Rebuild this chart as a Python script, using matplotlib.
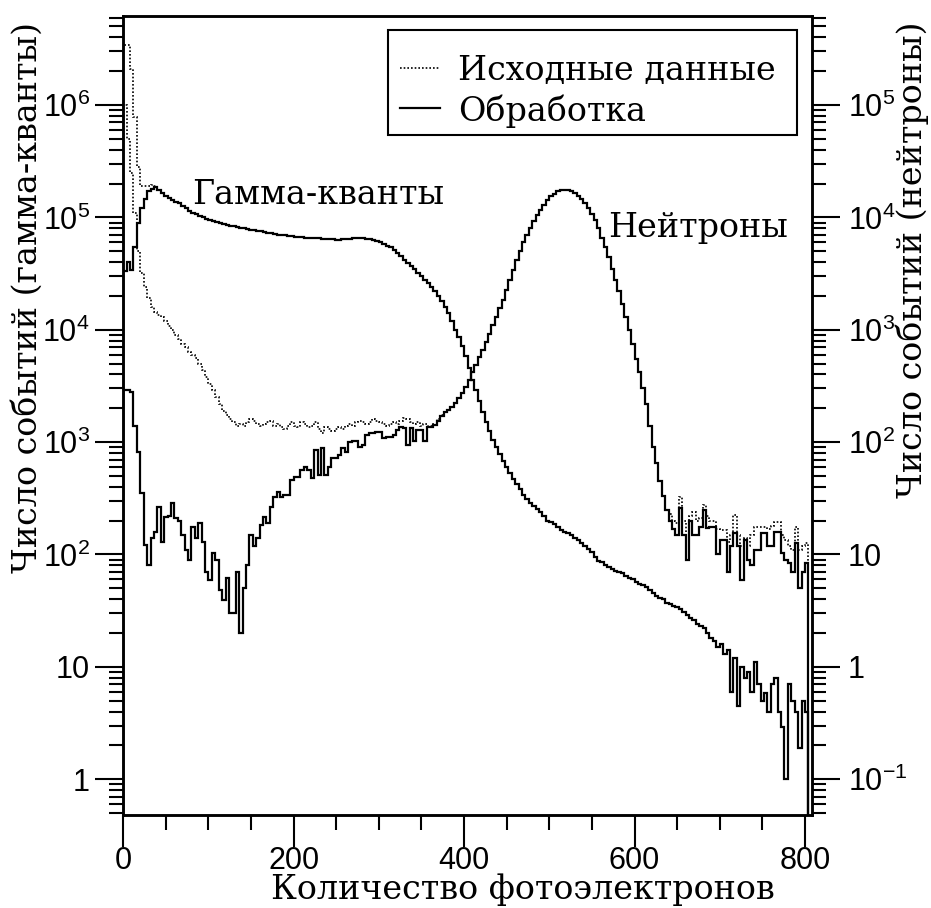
import numpy as np
import matplotlib
matplotlib.use("Agg")
import matplotlib.pyplot as plt
from matplotlib.lines import Line2D
from matplotlib.patches import Rectangle
from matplotlib.ticker import LogLocator, FixedLocator, FuncFormatter, MultipleLocator, NullFormatter

# histogram bins: width 4 photoelectrons, starting at 0
bin_width = 4

# processed gamma spectrum (left axis)
gamma_proc = [
    3.3e4, 4.0e4, 3.4e4, 5.5e4, 9.0e4, 1.2e5, 1.45e5, 1.7e5, 1.8e5, 1.85e5,      # 0
    1.75e5, 1.65e5, 1.56e5, 1.5e5, 1.44e5, 1.38e5, 1.33e5, 1.26e5, 1.2e5, 1.15e5,  # 40
    1.1e5, 1.07e5, 1.03e5, 1.0e5, 9.7e4, 9.5e4, 9.3e4, 9.1e4, 8.9e4, 8.7e4,      # 80
    8.5e4, 8.4e4, 8.3e4, 8.2e4, 8.1e4, 8.0e4, 7.9e4, 7.8e4, 7.7e4, 7.6e4,        # 120
    7.5e4, 7.4e4, 7.3e4, 7.2e4, 7.1e4, 7.0e4, 6.95e4, 6.9e4, 6.85e4, 6.8e4,      # 160
    6.75e4, 6.7e4, 6.65e4, 6.6e4, 6.6e4, 6.55e4, 6.5e4, 6.5e4, 6.45e4, 6.4e4,    # 200
    6.4e4, 6.4e4, 6.35e4, 6.35e4, 6.4e4, 6.4e4, 6.45e4, 6.5e4, 6.5e4, 6.5e4,     # 240
    6.5e4, 6.45e4, 6.4e4, 6.3e4, 6.2e4, 6.0e4, 5.8e4, 5.6e4, 5.4e4, 5.1e4,       # 280
    4.8e4, 4.5e4, 4.2e4, 3.95e4, 3.7e4, 3.45e4, 3.2e4, 3.0e4, 2.8e4, 2.6e4,      # 320
    2.4e4, 2.2e4, 2.0e4, 1.8e4, 1.6e4, 1.4e4, 1.2e4, 1.0e4, 8.6e3, 7.2e3,        # 360
    5.8e3, 4.6e3, 3.6e3, 2.9e3, 2.3e3, 1.85e3, 1.5e3, 1.25e3, 1.05e3, 900,       # 400
    780, 680, 600, 530, 470, 420, 380, 340, 310, 290,                            # 440
    270, 255, 240, 220, 200, 195, 185, 175, 165, 160,                            # 480
    155, 150, 140, 135, 126, 118, 112, 106, 95, 88,                              # 520
    85, 80, 78, 74, 72, 70, 68, 64, 62, 60,                                      # 560
    57, 55, 53, 51, 48, 45, 43, 41, 40, 37,                                      # 600
    36, 35, 34, 33, 31, 29, 27, 26, 24, 23,                                      # 640
    22, 20, 18, 17, 15, 16, 13, 14, 6, 12,                                       # 680
    4.5, 10, 8, 9, 6, 11, 7, 5, 5.8, 4,                                          # 720
    7, 8, 4, 2.9, 1, 7, 5, 4, 1.9, 5,                                            # 760
    4,                                                                           # 800
]

# raw gamma data: only the low-amplitude part differs from the processed one
raw_gamma_head = [3.4e6, 3.4e6, 2.1e6, 7.8e5, 2.8e5, 1.9e5, 1.9e5, 1.9e5, 1.95e5, 1.9e5]

# processed neutron spectrum (plotted in left-axis units, right axis = /10)
neutron_proc = [
    2900, 2900, 2800, 1400, 820, 355, 121, 80, 140, 160,                         # 0
    265, 130, 215, 220, 290, 210, 200, 150, 110, 89,                             # 40
    177, 140, 190, 130, 70, 59, 103, 89, 48, 39,                                 # 80
    62, 30, 30, 70, 20, 50, 80, 150, 120, 140,                                   # 120
    182, 215, 190, 265, 325, 360, 325, 340, 340, 460,                            # 160
    490, 490, 560, 600, 560, 480, 850, 510, 890, 510,                            # 200
    600, 720, 720, 770, 890, 820, 1000, 1030, 1030, 910,                         # 240
    950, 1150, 1200, 1200, 1240, 1240, 1090, 1120, 1120, 1150,                   # 280
    1290, 1370, 1340, 940, 1340, 1030, 1290, 1290, 1030, 1370,                   # 320
    1370, 1420, 1550, 1700, 1850, 1950, 2050, 2250, 2450, 2750,                  # 360
    3100, 3600, 4200, 4900, 5700, 6600, 7800, 9200, 1.1e4, 1.3e4,                # 400
    1.55e4, 1.85e4, 2.25e4, 2.75e4, 3.4e4, 4.2e4, 5.0e4, 6.0e4, 7.0e4, 8.1e4,    # 440
    9.2e4, 1.04e5, 1.16e5, 1.3e5, 1.42e5, 1.54e5, 1.63e5, 1.7e5, 1.74e5, 1.76e5, # 480
    1.75e5, 1.72e5, 1.65e5, 1.55e5, 1.45e5, 1.35e5, 1.22e5, 1.08e5, 9.4e4, 8.0e4,# 520
    6.6e4, 5.4e4, 4.4e4, 3.5e4, 2.8e4, 2.2e4, 1.7e4, 1.3e4, 1.0e4, 7.5e3,        # 560
    5.5e3, 4.2e3, 3.0e3, 2.2e3, 1.4e3, 900, 650, 450, 330, 250,                  # 600
    200, 170, 150, 260, 150, 89, 200, 150, 150, 175,                             # 640
    250, 172, 175, 175, 100, 135, 135, 70, 120, 155,                             # 680
    120, 59, 135, 90, 80, 110, 110, 155, 155, 120,                               # 720
    120, 160, 160, 103, 90, 84, 70, 126, 50, 70,                                 # 760
    84,                                                                          # 800
]

# raw neutron data (before processing)
raw_neutron = [
    1.0e6, 5e5, 2.5e5, 1.1e5, 5e4, 3.2e4, 2.4e4, 1.9e4, 1.6e4, 1.45e4,           # 0
    1.35e4, 1.3e4, 1.2e4, 1.08e4, 1.0e4, 9.0e3, 8.3e3, 7.5e3, 7.0e3, 6.4e3,      # 40
    6.0e3, 5.6e3, 5.0e3, 4.4e3, 3.8e3, 3.3e3, 2.9e3, 2.5e3, 2.2e3, 1.9e3,        # 80
    1750, 1600, 1500, 1400, 1450, 1400, 1500, 1600, 1550, 1450,                  # 120
    1400, 1450, 1500, 1550, 1400, 1450, 1350, 1300, 1400, 1500,                  # 160
    1400, 1350, 1500, 1450, 1350, 1400, 1500, 1300, 1200, 1350,                  # 200
    1300, 1250, 1300, 1350, 1300, 1400, 1450, 1400, 1500, 1550,                  # 240
    1500, 1450, 1500, 1600, 1550, 1500, 1450, 1400, 1450, 1500,                  # 280
    1450, 1550, 1650, 1600, 1500, 1450, 1500, 1400, 1450, 1400,                  # 320
    1400, 1450, 1600, 1750, 1850, 1950, 2050, 2250, 2450, 2750,                  # 360
    3100, 3600, 4200, 4900, 5700, 6600, 7800, 9200, 1.1e4, 1.3e4,                # 400
    1.55e4, 1.85e4, 2.25e4, 2.75e4, 3.4e4, 4.2e4, 5.0e4, 6.0e4, 7.0e4, 8.1e4,    # 440
    9.2e4, 1.04e5, 1.16e5, 1.3e5, 1.42e5, 1.54e5, 1.63e5, 1.7e5, 1.74e5, 1.76e5, # 480
    1.75e5, 1.72e5, 1.65e5, 1.55e5, 1.45e5, 1.35e5, 1.22e5, 1.08e5, 9.4e4, 8.0e4,# 520
    6.6e4, 5.4e4, 4.4e4, 3.5e4, 2.8e4, 2.2e4, 1.7e4, 1.3e4, 1.0e4, 7.5e3,        # 560
    5.5e3, 4.2e3, 3.0e3, 2.2e3, 1.4e3, 900, 650, 450, 330, 250,                  # 600
    230, 200, 190, 325, 200, 150, 220, 240, 200, 210,                            # 640
    275, 220, 200, 200, 170, 165, 165, 130, 150, 225,                            # 680
    150, 120, 140, 120, 150, 177, 177, 177, 177, 170,                            # 720
    180, 195, 195, 150, 135, 120, 110, 177, 110, 120,                            # 760
    126,                                                                         # 800
]

legend_labels = ["Исходные данные", "Обработка"]
xlabel = "Количество фотоэлектронов"
ylabel_left = "Число событий (гамма-кванты)"
ylabel_right = "Число событий (нейтроны)"
left_ticks = [1, 10, 1e2, 1e3, 1e4, 1e5, 1e6]
right_ticks = [0.1, 1, 10, 1e2, 1e3, 1e4, 1e5]

plt.rcParams['mathtext.fontset'] = 'custom'
plt.rcParams['mathtext.rm'] = 'Liberation Sans'
plt.rcParams['mathtext.it'] = 'Liberation Sans:italic'
plt.rcParams['mathtext.bf'] = 'Liberation Sans:bold'

serif = 'DejaVu Serif'
sans = 'Liberation Sans'
dots = (0, (1, 1.2))
W, H = 931, 908


def fx(px):
    return px / W


def fy(py):
    return 1 - py / H


edges = np.arange(len(gamma_proc) + 1) * bin_width
raw_gamma = raw_gamma_head + gamma_proc[len(raw_gamma_head):]

fig = plt.figure(figsize=(9.31, 9.08), dpi=100)
ax = fig.add_axes([0.1324, 0.1024, 0.7395, 0.88])

ax.stairs(raw_gamma, edges, baseline=1e-3, color='black', lw=1.2, ls=dots)
ax.stairs(raw_neutron, edges, baseline=1e-3, color='black', lw=1.2, ls=dots)
ax.stairs(gamma_proc, edges, baseline=1e-3, color='black', lw=1.6)
ax.stairs(neutron_proc, edges, baseline=1e-3, color='black', lw=1.6)

ax.set_yscale('log')
ax.set_xlim(0, 808)
ax.set_ylim(0.48, 6.2e6)


def pow_fmt(v, pos):
    n = int(round(np.log10(v)))
    if n == 0:
        return '1'
    if n == 1:
        return '10'
    return r'$\mathregular{10^{%d}}$' % n


ax.yaxis.set_major_locator(FixedLocator(left_ticks))
ax.yaxis.set_minor_locator(LogLocator(base=10, subs=np.arange(2, 10), numticks=20))
ax.yaxis.set_major_formatter(FuncFormatter(pow_fmt))
ax.yaxis.set_minor_formatter(NullFormatter())
ax.xaxis.set_major_locator(MultipleLocator(200))
ax.xaxis.set_minor_locator(MultipleLocator(50))

ax.tick_params(axis='y', which='major', direction='out', length=20, width=1.5, labelsize=22, pad=4)
ax.tick_params(axis='y', which='minor', direction='out', length=10, width=1.5)
ax.tick_params(axis='x', which='major', direction='out', length=23, width=1.5, labelsize=22, pad=-1)
ax.tick_params(axis='x', which='minor', direction='out', length=11, width=1.5)
for lab in ax.get_xticklabels() + ax.get_yticklabels():
    lab.set_fontfamily(sans)
for s in ax.spines.values():
    s.set_linewidth(1.8)

# right axis: neutron counts (left units / 10)
ax2 = ax.twinx()
ax2.set_yscale('log')
ax2.set_ylim(0.048, 6.2e5)
ax2.yaxis.set_major_locator(FixedLocator(right_ticks))
ax2.yaxis.set_minor_locator(LogLocator(base=10, subs=np.arange(2, 10), numticks=20))
ax2.yaxis.set_major_formatter(FuncFormatter(pow_fmt))
ax2.yaxis.set_minor_formatter(NullFormatter())
ax2.tick_params(axis='y', which='major', direction='out', length=20, width=1.5, labelsize=22, pad=6)
ax2.tick_params(axis='y', which='minor', direction='out', length=10, width=1.5)
for lab in ax2.get_yticklabels():
    lab.set_fontfamily(sans)
for s in ax2.spines.values():
    s.set_linewidth(1.8)

# legend box drawn by hand to match the ROOT layout
fig.patches.append(Rectangle((fx(388), fy(135)), fx(797) - fx(388), fy(30) - fy(135),
                             transform=fig.transFigure, fill=True, facecolor='white',
                             edgecolor='black', lw=1.5, zorder=5))
styles = [dict(ls=dots, lw=1.2), dict(ls='-', lw=1.6)]
for row_y, label, st in zip([68, 108], legend_labels, styles):
    fig.lines.append(Line2D([fx(400), fx(440)], [fy(row_y), fy(row_y)],
                            transform=fig.transFigure, color='black', zorder=6, **st))
    fig.text(fx(458), fy(row_y), label, family=serif, size=24, ha='left', va='center_baseline',
             zorder=6)

# annotations and titles
fig.text(fx(192), fy(195), "Гамма-кванты", family=serif, size=24, ha='left', va='center')
fig.text(fx(608), fy(228), "Нейтроны", family=serif, size=24, ha='left', va='center')
fig.text(fx(775), fy(890), xlabel, family=serif, size=24, ha='right', va='center')
fig.text(fx(28), fy(22), ylabel_left, family=serif, size=24, rotation=90, ha='center', va='top')
fig.text(fx(912), fy(22), ylabel_right, family=serif, size=24, rotation=90, ha='center', va='top')

fig.savefig('out.png', dpi=100)
